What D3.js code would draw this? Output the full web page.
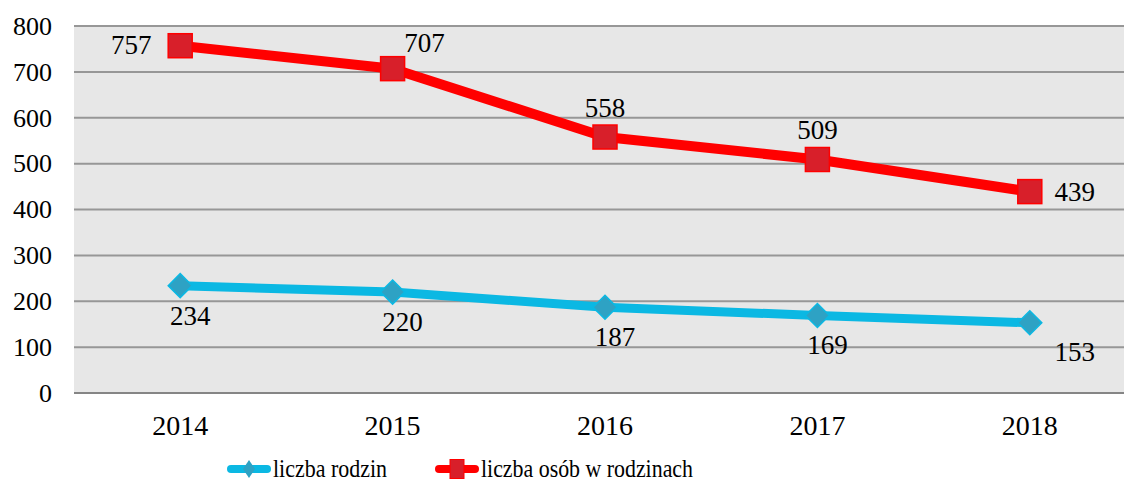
<!DOCTYPE html>
<html lang="pl">
<head>
  <meta charset="UTF-8" />
  <title>Liczba rodzin i osób w rodzinach</title>
  <style>
    html, body { margin: 0; padding: 0; background: #fff; }
    svg { display: block; }
    svg text { font-family: "Liberation Serif", "Times New Roman", serif; }
  </style>
</head>
<body>
<svg id="chart" width="1124" height="483"></svg>
<script src="https://cdnjs.cloudflare.com/ajax/libs/d3/7.8.5/d3.min.js"></script>
<script>
  // data
  const years = ["2014", "2015", "2016", "2017", "2018"];
  const families = [234, 220, 187, 169, 153];
  const persons = [757, 707, 558, 509, 439];
  const yTicks = [0, 100, 200, 300, 400, 500, 600, 700, 800];
  const seriesNames = ["liczba rodzin", "liczba osób w rodzinach"];
  // where Excel put each data label
  const familyLabelPos = ["below", "below", "below", "below", "belowRight"];
  const personLabelPos = ["left", "aboveRight", "above", "above", "right"];

  const svg = d3.select("#chart");
  const W = 1124;
  const plot = { left: 74, right: 1136, top: 26, bottom: 393 };

  const x = d3.scaleBand().domain(years).range([plot.left, plot.right]);
  const cx = d => x(d) + x.bandwidth() / 2;
  const y = d3.scaleLinear().domain([0, 800]).range([plot.bottom, plot.top]);

  // plot background
  svg.append("rect")
    .attr("x", plot.left).attr("y", plot.top)
    .attr("width", W - plot.left).attr("height", plot.bottom - plot.top)
    .attr("fill", "#e7e7e7");

  // gridlines
  svg.append("g")
    .selectAll("line")
    .data(yTicks)
    .enter().append("line")
    .attr("x1", plot.left).attr("x2", W)
    .attr("y1", d => y(d)).attr("y2", d => y(d))
    .attr("stroke", d => d === 0 ? "#858585" : "#979797")
    .attr("stroke-width", 2);

  // y axis labels
  const yAxis = svg.append("g")
    .attr("transform", `translate(${plot.left},0)`)
    .call(d3.axisLeft(y).tickValues(yTicks).tickSize(0).tickPadding(22));
  yAxis.attr("font-family", null);
  yAxis.select(".domain").remove();
  yAxis.selectAll("text")
    .attr("font-size", 26)
    .attr("fill", "#000");

  // x axis labels
  const xAxis = svg.append("g")
    .attr("transform", `translate(0,${plot.bottom})`)
    .call(d3.axisBottom(x).tickSize(0).tickPadding(22));
  xAxis.attr("font-family", null);
  xAxis.select(".domain").remove();
  xAxis.selectAll("text")
    .attr("font-size", 28)
    .attr("fill", "#000");

  const line = d3.line().x((d, i) => cx(years[i])).y(d => y(d));

  const blue = "#0bb8e3", blueMark = "#2ea2c4";
  const red = "#ff0000", redMark = "#d81f2a";

  // families line
  svg.append("path")
    .datum(families)
    .attr("fill", "none")
    .attr("stroke", blue)
    .attr("stroke-width", 9)
    .attr("stroke-linejoin", "round")
    .attr("d", line);

  svg.append("g").selectAll("path")
    .data(families)
    .enter().append("path")
    .attr("transform", (d, i) => `translate(${cx(years[i])},${y(d)})`)
    .attr("d", "M0,-12 L12,0 L0,12 L-12,0 Z")
    .attr("fill", blueMark)
    .attr("stroke", blue)
    .attr("stroke-width", 1.5);

  // persons line
  svg.append("path")
    .datum(persons)
    .attr("fill", "none")
    .attr("stroke", red)
    .attr("stroke-width", 10)
    .attr("stroke-linejoin", "round")
    .attr("d", line);

  svg.append("g").selectAll("rect")
    .data(persons)
    .enter().append("rect")
    .attr("x", (d, i) => cx(years[i]) - 12)
    .attr("y", d => y(d) - 12)
    .attr("width", 24).attr("height", 24)
    .attr("fill", redMark)
    .attr("stroke", red)
    .attr("stroke-width", 1.5);

  // data labels
  const offsets = {
    below: [10, 39],
    belowRight: [45, 38],
    left: [-49, 8],
    above: [0, -20],
    aboveRight: [32, -17],
    right: [45, 9]
  };

  function labels(values, pos) {
    svg.append("g").selectAll("text")
      .data(values)
      .enter().append("text")
      .attr("x", (d, i) => cx(years[i]) + offsets[pos[i]][0])
      .attr("y", (d, i) => y(d) + offsets[pos[i]][1])
      .attr("text-anchor", "middle")
      .attr("font-size", 27)
      .attr("fill", "#000")
      .text(d => d);
  }
  labels(families, familyLabelPos);
  labels(persons, personLabelPos);

  // legend (the text in the source is a bit narrower than normal)
  const legend = svg.append("g").attr("transform", "translate(0,469)");
  const legendItems = [
    { name: seriesNames[0], x0: 227, len: 114, color: blue, mark: "diamond" },
    { name: seriesNames[1], x0: 435, len: 212, color: red, mark: "square" }
  ];
  legendItems.forEach(it => {
    legend.append("line")
      .attr("x1", it.x0 + 4).attr("x2", it.x0 + 40)
      .attr("y1", 0).attr("y2", 0)
      .attr("stroke", it.color)
      .attr("stroke-width", 8)
      .attr("stroke-linecap", "round");
    if (it.mark === "diamond") {
      legend.append("path")
        .attr("transform", `translate(${it.x0 + 22},0)`)
        .attr("d", "M0,-9 L6,0 L0,9 L-6,0 Z")
        .attr("fill", blueMark);
    } else {
      legend.append("rect")
        .attr("x", it.x0 + 22 - 7).attr("y", -9.5)
        .attr("width", 14).attr("height", 19)
        .attr("fill", redMark)
        .attr("stroke", red).attr("stroke-width", 1);
    }
    legend.append("text")
      .attr("x", it.x0 + 46)
      .attr("y", 8)
      .attr("font-size", 26)
      .attr("textLength", it.len)
      .attr("lengthAdjust", "spacingAndGlyphs")
      .attr("fill", "#000")
      .text(it.name);
  });
</script>
</body>
</html>
